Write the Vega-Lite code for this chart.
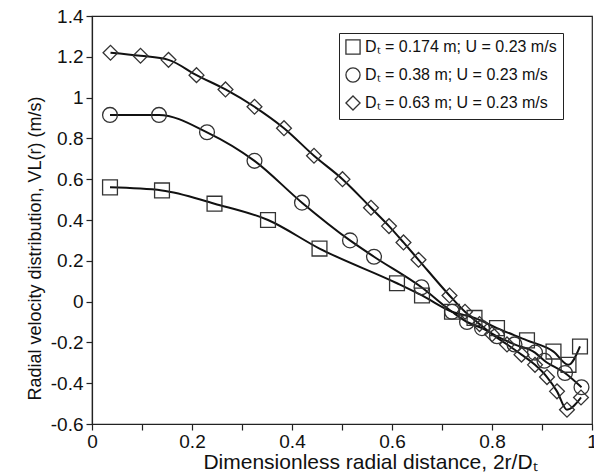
{
  "$schema": "https://vega.github.io/schema/vega-lite/v6.json",
  "width": 500,
  "height": 408,
  "autosize": {"type": "none"},
  "padding": {"left": 92, "top": 16, "right": 2, "bottom": 49},
  "background": "white",
  "config": {
    "font": "Liberation Sans",
    "view": {"stroke": "#222", "strokeWidth": 1.2},
    "axis": {
      "grid": false,
      "domainColor": "#222",
      "tickColor": "#222",
      "labelColor": "#111",
      "titleColor": "#111",
      "labelFont": "Liberation Sans",
      "titleFont": "Liberation Sans",
      "labelFontSize": 19,
      "titleFontSize": 18,
      "titleFontWeight": "normal",
      "tickSize": 6,
      "domainWidth": 1.2,
      "tickWidth": 1.2
    }
  },
  "data": {
    "values": [
      {"s": "0.174", "x": 0.036, "y": 0.56},
      {"s": "0.174", "x": 0.14, "y": 0.545},
      {"s": "0.174", "x": 0.245, "y": 0.48},
      {"s": "0.174", "x": 0.352, "y": 0.40},
      {"s": "0.174", "x": 0.455, "y": 0.26},
      {"s": "0.174", "x": 0.61, "y": 0.09},
      {"s": "0.174", "x": 0.66, "y": 0.03},
      {"s": "0.174", "x": 0.72, "y": -0.05},
      {"s": "0.174", "x": 0.765, "y": -0.08},
      {"s": "0.174", "x": 0.81, "y": -0.13},
      {"s": "0.174", "x": 0.87, "y": -0.19},
      {"s": "0.174", "x": 0.923, "y": -0.245},
      {"s": "0.174", "x": 0.953, "y": -0.31},
      {"s": "0.174", "x": 0.976, "y": -0.22},
      {"s": "0.38", "x": 0.036, "y": 0.915},
      {"s": "0.38", "x": 0.134, "y": 0.915},
      {"s": "0.38", "x": 0.23, "y": 0.83},
      {"s": "0.38", "x": 0.325, "y": 0.69},
      {"s": "0.38", "x": 0.42, "y": 0.485},
      {"s": "0.38", "x": 0.516, "y": 0.30},
      {"s": "0.38", "x": 0.564, "y": 0.22},
      {"s": "0.38", "x": 0.659, "y": 0.07},
      {"s": "0.38", "x": 0.72, "y": -0.05},
      {"s": "0.38", "x": 0.75, "y": -0.10},
      {"s": "0.38", "x": 0.78, "y": -0.13},
      {"s": "0.38", "x": 0.81, "y": -0.17},
      {"s": "0.38", "x": 0.845, "y": -0.21},
      {"s": "0.38", "x": 0.886, "y": -0.25},
      {"s": "0.38", "x": 0.905, "y": -0.29},
      {"s": "0.38", "x": 0.946, "y": -0.35},
      {"s": "0.38", "x": 0.979, "y": -0.42},
      {"s": "0.63", "x": 0.037, "y": 1.22},
      {"s": "0.63", "x": 0.097, "y": 1.205},
      {"s": "0.63", "x": 0.153, "y": 1.185},
      {"s": "0.63", "x": 0.209, "y": 1.11},
      {"s": "0.63", "x": 0.267, "y": 1.04},
      {"s": "0.63", "x": 0.325, "y": 0.955},
      {"s": "0.63", "x": 0.384, "y": 0.85},
      {"s": "0.63", "x": 0.444, "y": 0.715},
      {"s": "0.63", "x": 0.501, "y": 0.60},
      {"s": "0.63", "x": 0.558, "y": 0.46},
      {"s": "0.63", "x": 0.594, "y": 0.37},
      {"s": "0.63", "x": 0.623, "y": 0.29},
      {"s": "0.63", "x": 0.653, "y": 0.205},
      {"s": "0.63", "x": 0.715, "y": 0.03},
      {"s": "0.63", "x": 0.746, "y": -0.05},
      {"s": "0.63", "x": 0.775, "y": -0.11},
      {"s": "0.63", "x": 0.80, "y": -0.16},
      {"s": "0.63", "x": 0.83, "y": -0.21},
      {"s": "0.63", "x": 0.859, "y": -0.26},
      {"s": "0.63", "x": 0.886, "y": -0.31},
      {"s": "0.63", "x": 0.91, "y": -0.37},
      {"s": "0.63", "x": 0.93, "y": -0.44},
      {"s": "0.63", "x": 0.95, "y": -0.53},
      {"s": "0.63", "x": 0.978, "y": -0.47}
    ]
  },
  "encoding": {
    "x": {
      "field": "x",
      "type": "quantitative",
      "scale": {"domain": [0, 1], "nice": false, "zero": false},
      "axis": {
        "values": [0, 0.1, 0.2, 0.3, 0.4, 0.5, 0.6, 0.7, 0.8, 0.9, 1],
        "labelExpr": "round(datum.value*10) % 2 == 0 ? toString(round(datum.value*10)/10) : ''",
        "title": "Dimensionless radial distance, 2r/Dₜ",
        "titleFontSize": 21,
        "titleX": 278,
        "titleY": 44,
        "titleBaseline": "alphabetic",
        "labelFontSize": 19,
        "labelPadding": 2,
        "labelFlush": false,
        "labelOverlap": false
      }
    },
    "y": {
      "field": "y",
      "type": "quantitative",
      "scale": {"domain": [-0.6, 1.4], "nice": false, "zero": false},
      "axis": {
        "values": [-0.6, -0.4, -0.2, 0, 0.2, 0.4, 0.6, 0.8, 1, 1.2, 1.4],
        "labelExpr": "toString(round(datum.value*10)/10)",
        "title": "Radial velocity distribution, VL(r) (m/s)",
        "titleY": 232,
        "labelPadding": 3,
        "titlePadding": 6,
        "labelFlush": false,
        "labelOverlap": false
      }
    }
  },
  "layer": [
    {
      "mark": {"type": "line", "interpolate": "monotone", "color": "#111", "strokeWidth": 2},
      "encoding": {"detail": {"field": "s"}}
    },
    {
      "mark": {"type": "point", "filled": false, "color": "#333", "strokeWidth": 1.3, "size": 220, "opacity": 1},
      "encoding": {
        "shape": {
          "field": "s",
          "type": "nominal",
          "scale": {"domain": ["0.174", "0.38", "0.63"], "range": ["square", "circle", "diamond"]},
          "legend": {
            "title": null,
            "orient": "none",
            "legendX": 247,
            "legendY": 17,
            "strokeColor": "#222",
            "fillColor": "white",
            "padding": 6,
            "labelFont": "Liberation Sans",
            "labelFontSize": 16,
            "labelColor": "#111",
            "labelLimit": 0,
            "symbolSize": 200,
            "symbolStrokeWidth": 1.3,
            "symbolStrokeColor": "#333",
            "rowPadding": 8,
            "labelExpr": "'Dₜ = ' + datum.label + ' m; U = 0.23 m/s'"
          }
        }
      }
    }
  ]
}
